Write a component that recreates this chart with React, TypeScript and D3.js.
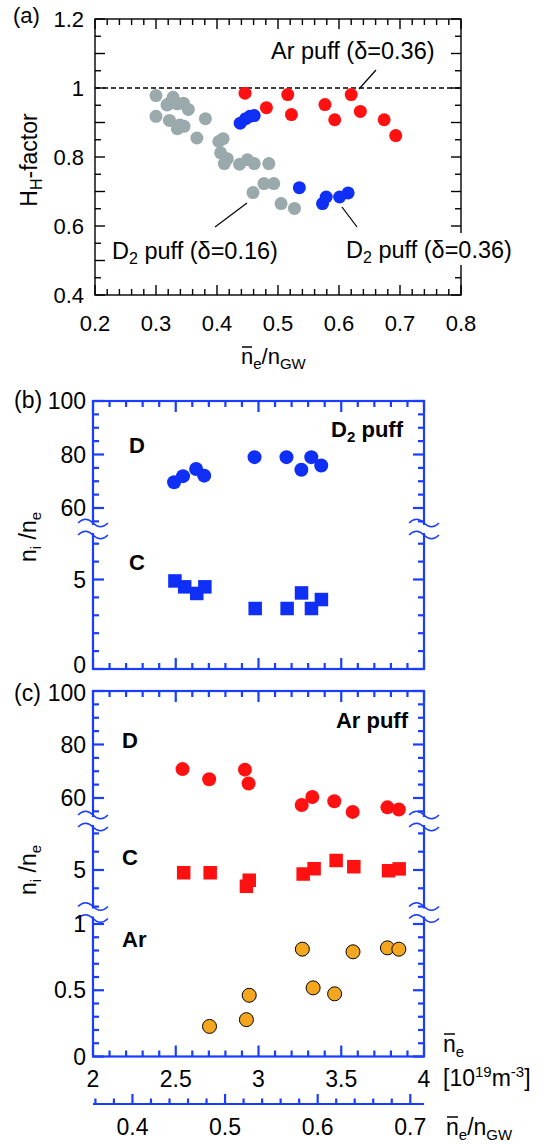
import React from 'react';
import * as d3 from 'd3';

const FONT = '"Liberation Sans", Arial, Helvetica, sans-serif';
const AXIS_BLUE = '#1a3dff';
const PT_BLUE = '#0f2ff5';
const PT_RED = '#ff1111';
const PT_GRAY = '#9aa9ab';
const PT_ORANGE = '#f4a71e';

// (a) H-factor vs ne/nGW
const d2LowX = [0.300, 0.300, 0.328, 0.321, 0.335, 0.345, 0.353, 0.322, 0.335, 0.346, 0.381, 0.367, 0.403, 0.410, 0.406, 0.417, 0.412, 0.437, 0.450, 0.461, 0.485, 0.477, 0.493, 0.459, 0.505, 0.527, 0.318, 0.339];
const d2LowY = [0.978, 0.918, 0.973, 0.954, 0.954, 0.956, 0.938, 0.906, 0.882, 0.889, 0.911, 0.855, 0.845, 0.853, 0.812, 0.795, 0.781, 0.779, 0.792, 0.781, 0.781, 0.723, 0.723, 0.697, 0.665, 0.651, 0.951, 0.893];
const d2HighX = [0.438, 0.447, 0.454, 0.461, 0.535, 0.573, 0.579, 0.601, 0.615];
const d2HighY = [0.898, 0.911, 0.918, 0.920, 0.711, 0.665, 0.684, 0.684, 0.696];
const arX = [0.446, 0.481, 0.516, 0.522, 0.577, 0.593, 0.620, 0.635, 0.674, 0.693];
const arY = [0.985, 0.943, 0.981, 0.923, 0.952, 0.908, 0.981, 0.932, 0.908, 0.862];
const hLabels = [0.4, 0.6, 0.8, 1, 1.2];
const gwLabelsA = [0.2, 0.3, 0.4, 0.5, 0.6, 0.7, 0.8];

// (b) D2 puff: ni/ne vs ne [1e19 m^-3]
const bDNe = [2.49, 2.544, 2.623, 2.672, 2.976, 3.169, 3.259, 3.319, 3.379];
const bD = [69.6, 71.9, 74.6, 72.1, 79.0, 79.0, 74.3, 79.0, 75.9];
const bCNe = [2.495, 2.554, 2.627, 2.676, 2.98, 3.173, 3.26, 3.32, 3.38];
const bC = [4.92, 4.59, 4.22, 4.59, 3.38, 3.38, 4.25, 3.38, 3.88];

// (c) Ar puff
const cDNe = [2.541, 2.702, 2.918, 2.94, 3.261, 3.325, 3.458, 3.569, 3.779, 3.848];
const cD = [70.8, 67.0, 70.6, 65.4, 57.4, 60.4, 58.8, 54.8, 56.5, 55.7];
const cCNe = [2.548, 2.708, 2.927, 2.944, 3.27, 3.336, 3.469, 3.576, 3.786, 3.85];
const cC = [4.85, 4.85, 4.11, 4.44, 4.78, 5.07, 5.52, 5.18, 4.96, 5.06];
const cArNe = [2.704, 2.927, 2.944, 3.265, 3.33, 3.46, 3.571, 3.779, 3.848];
const cAr = [0.227, 0.278, 0.462, 0.81, 0.518, 0.473, 0.79, 0.82, 0.81];

const neLabels = [2, 2.5, 3, 3.5, 4];
const gwLabels = [0.4, 0.5, 0.6, 0.7];
const GW_PER_NE = 0.1787;

const isMul = (v: number, m: number) => Math.abs(v / m - Math.round(v / m)) < 1e-6;

function wave(x: number, y: number) {
  return `M${x - 15},${y} C${x - 10},${y - 5} ${x - 5},${y - 5} ${x},${y} C${x + 5},${y + 5} ${x + 10},${y + 5} ${x + 15},${y}`;
}

function BluePanel({ top, bottom, segs, breaks, xn }: any) {
  const left = xn.range()[0];
  const right = xn.range()[1];
  const neMinor = d3.range(0, 21).map(i => 2 + i * 0.1);
  return (
    <g stroke={AXIS_BLUE} strokeWidth={2.2} fill="none">
      <rect x={left} y={top} width={right - left} height={bottom - top} />
      {neMinor.map((v, i) => {
        const x = xn(v);
        const len = isMul(v, 0.5) ? 11 : 6;
        return (
          <g key={'x' + i}>
            <line x1={x} x2={x} y1={top} y2={top + len} />
            <line x1={x} x2={x} y1={bottom} y2={bottom - len} />
          </g>
        );
      })}
      {segs.map((s: any, si: number) =>
        s.ticks.map((v: number, i: number) => {
          const y = s.scale(v);
          const len = s.major.includes(v) ? 11 : 6;
          return (
            <g key={'y' + si + '-' + i}>
              <line x1={left} x2={left + len} y1={y} y2={y} />
              <line x1={right} x2={right - len} y1={y} y2={y} />
            </g>
          );
        })
      )}
      {breaks.map((b: number, i: number) => (
        <g key={'b' + i}>
          <rect x={left - 3} y={b - 4} width={6} height={8} fill="white" stroke="none" />
          <rect x={right - 3} y={b - 4} width={6} height={8} fill="white" stroke="none" />
          <path d={wave(left, b - 6)} strokeWidth={1.4} />
          <path d={wave(left, b + 6)} strokeWidth={1.4} />
          <path d={wave(right, b - 6)} strokeWidth={1.4} />
          <path d={wave(right, b + 6)} strokeWidth={1.4} />
        </g>
      ))}
    </g>
  );
}

function Overline({ x, y, w }: any) {
  return <line x1={x + 1} x2={x + w} y1={y} y2={y} stroke="black" strokeWidth={1.5} />;
}

export default function App() {
  // panel (a)
  const xa = d3.scaleLinear().domain([0.2, 0.8]).range([95, 461]);
  const ya = d3.scaleLinear().domain([0.4, 1.2]).range([295, 19]);
  const aTop = ya.range()[1], aBot = ya.range()[0], aL = xa.range()[0], aR = xa.range()[1];
  const aMinorX = d3.range(0, 31).map(i => 0.2 + i * 0.02);
  const aMinorY = d3.range(0, 17).map(i => 0.4 + i * 0.05);

  // panels (b), (c)
  const xn = d3.scaleLinear().domain([2, 4]).range([93, 424]);
  const xg = d3.scaleLinear().domain([2 * GW_PER_NE, 4 * GW_PER_NE]).range([93, 424]);
  const bUp = d3.scaleLinear().domain([60, 100]).range([508, 401]);
  const bLo = d3.scaleLinear().domain([0, 5]).range([669, 579.5]);
  const cUp = d3.scaleLinear().domain([60, 100]).range([798, 691]);
  const cMid = d3.scaleLinear().domain([4, 6]).range([888.3, 851.7]);
  const cLo = d3.scaleLinear().domain([0, 1]).range([1056.5, 924]);
  const upTicks = d3.range(55, 101, 5);
  const bSegs = [
    { scale: bUp, ticks: upTicks, major: [60, 80, 100] },
    { scale: bLo, ticks: d3.range(0, 8), major: [0, 5] },
  ];
  const cSegs = [
    { scale: cUp, ticks: upTicks, major: [60, 80, 100] },
    { scale: cMid, ticks: [3, 4, 5, 6, 7], major: [5] },
    { scale: cLo, ticks: d3.range(0, 11).map(i => i / 10), major: [0, 0.5, 1] },
  ];
  const gwMinor = d3.range(18, 36).map(i => i * 0.02).filter(v => v >= xg.domain()[0] && v <= xg.domain()[1]);
  const axisY2 = 1104;

  const sq = 13.5;

  return (
    <svg width={555} height={1144} style={{ position: 'absolute', left: 0, top: 0, background: 'white' }} fontFamily={FONT}>
      {/* ---------- (a) ---------- */}
      <g stroke="black" strokeWidth={1.4} fill="none">
        <rect x={aL} y={aTop} width={aR - aL} height={aBot - aTop} />
        {aMinorX.map((v, i) => {
          const x = xa(v);
          const len = isMul(v, 0.1) ? 10 : 6;
          return (
            <g key={i}>
              <line x1={x} x2={x} y1={aTop} y2={aTop + len} />
              <line x1={x} x2={x} y1={aBot} y2={aBot - len} />
            </g>
          );
        })}
        {aMinorY.map((v, i) => {
          const y = ya(v);
          const len = isMul(v, 0.1) ? 10 : 6;
          return (
            <g key={i}>
              <line x1={aL} x2={aL + len} y1={y} y2={y} />
              <line x1={aR} x2={aR - len} y1={y} y2={y} />
            </g>
          );
        })}
        <line x1={aL} x2={aR} y1={ya(1)} y2={ya(1)} strokeDasharray="5 3" strokeWidth={1.4} />
      </g>
      {d2LowX.map((v, i) => <circle key={'g' + i} cx={xa(v)} cy={ya(d2LowY[i])} r={6.5} fill={PT_GRAY} />)}
      {d2HighX.map((v, i) => <circle key={'bl' + i} cx={xa(v)} cy={ya(d2HighY[i])} r={6.5} fill={PT_BLUE} />)}
      {arX.map((v, i) => <circle key={'r' + i} cx={xa(v)} cy={ya(arY[i])} r={6.5} fill={PT_RED} />)}
      {/* annotations */}
      <g stroke="black" strokeWidth={1.2}>
        <line x1={376} y1={70} x2={359} y2={89} />
        <line x1={215} y1={227} x2={247} y2={203} />
        <line x1={357} y1={227} x2={342} y2={207} />
      </g>
      <rect x={344} y={233} width={180} height={32} fill="white" />
      <g fontSize={23.5} fill="black">
        <text x={271} y={59}>Ar puff (δ=0.36)</text>
        <text x={112} y={259}>D<tspan fontSize={16} dy={5}>2</tspan><tspan dy={-5}> puff (δ=0.16)</tspan></text>
        <text x={346} y={258}>D<tspan fontSize={16} dy={5}>2</tspan><tspan dy={-5}> puff (δ=0.36)</tspan></text>
      </g>
      <g fontSize={22} fill="black">
        <text x={13} y={23}>(a)</text>
        {hLabels.map(v => (
          <text key={v} x={84} y={ya(v) + 8} textAnchor="end">{String(v)}</text>
        ))}
        {gwLabelsA.map(v => (
          <text key={v} x={xa(v)} y={331} textAnchor="middle">{String(v)}</text>
        ))}
        <text transform={`translate(37,160) rotate(-90)`} textAnchor="middle" fontSize={23}>
          H<tspan fontSize={16} dy={5}>H</tspan><tspan dy={-5}>-factor</tspan>
        </text>
        <text x={241} y={364}>n<tspan fontSize={15} dy={5}>e</tspan><tspan dy={-5}>/n</tspan><tspan fontSize={15} dy={5}>GW</tspan></text>
      </g>
      <Overline x={241} y={347} w={11} />

      {/* ---------- (b) ---------- */}
      <BluePanel top={401} bottom={669} segs={bSegs} breaks={[529]} xn={xn} />
      {bDNe.map((v, i) => <circle key={'bd' + i} cx={xn(v)} cy={bUp(bD[i])} r={7} fill={PT_BLUE} />)}
      {bCNe.map((v, i) => <rect key={'bc' + i} x={xn(v) - sq / 2} y={bLo(bC[i]) - sq / 2} width={sq} height={sq} fill={PT_BLUE} />)}
      <g fontSize={23} fill="black">
        <text x={14} y={408}>(b)</text>
        {[100, 80, 60].map(v => <text key={v} x={86} y={bUp(v) + 8} textAnchor="end">{String(v)}</text>)}
        <text x={86} y={bLo(5) + 8} textAnchor="end">5</text>
        <text x={86} y={bLo(0) + 4} textAnchor="end">0</text>
        <text transform={`translate(36,537) rotate(-90)`} textAnchor="middle">
          n<tspan fontSize={15} dy={5}>i</tspan><tspan dy={-5}> /n</tspan><tspan fontSize={15} dy={5}>e</tspan>
        </text>
      </g>
      <g fontSize={22} fontWeight="bold" fill="black">
        <text x={129} y={453}>D</text>
        <text x={129} y={570}>C</text>
        <text x={403} y={437} textAnchor="end">D<tspan fontSize={15} dy={5}>2</tspan><tspan dy={-5}> puff</tspan></text>
      </g>

      {/* ---------- (c) ---------- */}
      <BluePanel top={691} bottom={1056.5} segs={cSegs} breaks={[821, 912.5]} xn={xn} />
      {cDNe.map((v, i) => <circle key={'cd' + i} cx={xn(v)} cy={cUp(cD[i])} r={7} fill={PT_RED} />)}
      {cCNe.map((v, i) => <rect key={'cc' + i} x={xn(v) - sq / 2} y={cMid(cC[i]) - sq / 2} width={sq} height={sq} fill={PT_RED} />)}
      {cArNe.map((v, i) => <circle key={'ca' + i} cx={xn(v)} cy={cLo(cAr[i])} r={7} fill={PT_ORANGE} stroke="black" strokeWidth={1} />)}
      <g fontSize={23} fill="black">
        <text x={14} y={701}>(c)</text>
        <text x={86} y={cUp(100) + 10} textAnchor="end">100</text>
        {[80, 60].map(v => <text key={v} x={86} y={cUp(v) + 8} textAnchor="end">{String(v)}</text>)}
        <text x={86} y={cMid(5) + 8} textAnchor="end">5</text>
        {[1, 0.5, 0].map(v => <text key={v} x={86} y={cLo(v) + 8} textAnchor="end">{String(v)}</text>)}
        <text transform={`translate(36,870) rotate(-90)`} textAnchor="middle">
          n<tspan fontSize={15} dy={5}>i</tspan><tspan dy={-5}> /n</tspan><tspan fontSize={15} dy={5}>e</tspan>
        </text>
        {neLabels.map(v => <text key={v} x={xn(v)} y={1087} textAnchor="middle">{String(v)}</text>)}
        <text x={443} y={1052}>n<tspan fontSize={15} dy={5}>e</tspan></text>
        <text x={443} y={1086}>[10<tspan fontSize={15} dy={-9}>19</tspan><tspan dy={9}>m</tspan><tspan fontSize={15} dy={-9}>-3</tspan><tspan dy={9}>]</tspan></text>
        {gwLabels.map(v => <text key={v} x={xg(v)} y={1135} textAnchor="middle">{String(v)}</text>)}
        <text x={446} y={1135}>n<tspan fontSize={15} dy={5}>e</tspan><tspan dy={-5}>/n</tspan><tspan fontSize={15} dy={5}>GW</tspan></text>
      </g>
      <Overline x={443} y={1034} w={12} />
      <Overline x={446} y={1117} w={12} />
      <g fontSize={22} fontWeight="bold" fill="black">
        <text x={122} y={748}>D</text>
        <text x={122} y={865}>C</text>
        <text x={122} y={947}>Ar</text>
        <text x={408} y={728} textAnchor="end">Ar puff</text>
      </g>

      {/* second x axis (ne/nGW) */}
      <g stroke={AXIS_BLUE} strokeWidth={2.2}>
        <line x1={xg.range()[0]} x2={xg.range()[1]} y1={axisY2} y2={axisY2} />
        {gwMinor.map((v, i) => {
          const x = xg(v);
          const len = isMul(v, 0.1) ? 10 : 5.5;
          return <line key={i} x1={x} x2={x} y1={axisY2} y2={axisY2 - len} />;
        })}
      </g>
    </svg>
  );
}
